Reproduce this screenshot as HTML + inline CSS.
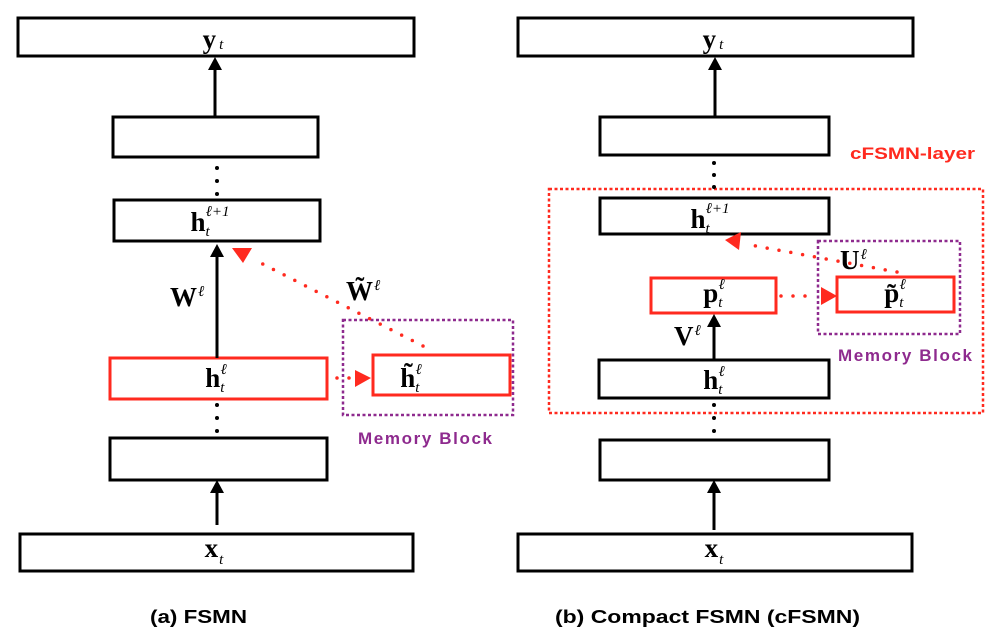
<!DOCTYPE html>
<html><head><meta charset="utf-8"><style>
html,body{margin:0;padding:0;background:#fff;}
svg{display:block}
.m{font-family:"Liberation Serif",serif;font-weight:bold;font-size:27px;}
.s{font-family:"Liberation Serif",serif;font-style:italic;font-size:15px;font-weight:normal;}
.lbl{font-family:"Liberation Sans",sans-serif;font-weight:bold;}
</style></head><body>
<svg width="992" height="636" viewBox="0 0 992 636" xmlns="http://www.w3.org/2000/svg">
<g fill="none" stroke="#000" stroke-width="3">
<rect x="18" y="18" width="396" height="38"/>
<rect x="113" y="117" width="205" height="40"/>
<rect x="114" y="200" width="206" height="41"/>
<rect x="110" y="438" width="217" height="42"/>
<rect x="20" y="534" width="393" height="37"/>
<rect x="518" y="18" width="395" height="38"/>
<rect x="600" y="117" width="229" height="38"/>
<rect x="600" y="198" width="229" height="36"/>
<rect x="599" y="360" width="230" height="38"/>
<rect x="600" y="440" width="229" height="40"/>
<rect x="518" y="534" width="394" height="37"/>
</g>
<g fill="none" stroke="#ff2a1f" stroke-width="3">
<rect x="110" y="358" width="217" height="41"/>
<rect x="373" y="355" width="137" height="40"/>
<rect x="651" y="278" width="125" height="35"/>
<rect x="837" y="277" width="117" height="35"/>
</g>
<rect x="549" y="189" width="434" height="224" fill="none" stroke="#ff2a1f" stroke-width="2.5" stroke-dasharray="3,2.5"/>
<rect x="343" y="320" width="170" height="95" fill="none" stroke="#8e2a8e" stroke-width="2.5" stroke-dasharray="3,2.5"/>
<rect x="818" y="241" width="142" height="93" fill="none" stroke="#8e2a8e" stroke-width="2.5" stroke-dasharray="3,2.5"/>
<g stroke="#000" stroke-width="3">
<line x1="215" y1="117" x2="215" y2="66"/>
<line x1="217" y1="358" x2="217" y2="251"/>
<line x1="217" y1="525" x2="217" y2="490"/>
<line x1="715" y1="117" x2="715" y2="66"/>
<line x1="714" y1="360" x2="714" y2="323"/>
<line x1="714" y1="530" x2="714" y2="490"/>
</g>
<g fill="#000">
<path d="M208,70 L215,57 L222,70z"/>
<path d="M210,257 L217,244 L224,257z"/>
<path d="M210,493 L217,480 L224,493z"/>
<path d="M708,70 L715,57 L722,70z"/>
<path d="M707,327 L714,314 L721,327z"/>
<path d="M707,493 L714,480 L721,493z"/>
<circle cx="217" cy="168" r="2"/><circle cx="217" cy="181" r="2"/><circle cx="217" cy="194" r="2"/>
<circle cx="217" cy="405" r="2"/><circle cx="217" cy="418" r="2"/><circle cx="217" cy="431" r="2"/>
<circle cx="714" cy="163" r="2"/><circle cx="714" cy="175" r="2"/><circle cx="714" cy="187" r="2"/>
<circle cx="714" cy="405" r="2"/><circle cx="714" cy="418" r="2"/><circle cx="714" cy="431" r="2"/>
</g>
<g stroke="#ff2a1f" stroke-width="3.5" stroke-linecap="round" stroke-dasharray="0,12" fill="none">
<line x1="423" y1="346" x2="253" y2="259"/>
<line x1="337" y1="378" x2="355" y2="378"/>
<line x1="897" y1="272" x2="745" y2="244"/>
<line x1="781" y1="296" x2="815" y2="296"/>
</g>
<g fill="#ff2a1f">
<path d="M232,248 L252,248 L243,263z"/>
<path d="M355,370 L371,378 L355,387z"/>
<path d="M725,240 L741,232 L739,250z"/>
<path d="M821,287 L837,296 L821,305z"/>
</g>
<g class="m" text-anchor="middle">
<text x="213" y="48">y<tspan class="s" dy="1" dx="3">t</tspan></text>
<text x="713" y="48">y<tspan class="s" dy="1" dx="3">t</tspan></text>
<text x="214" y="557">x<tspan class="s" dy="7" dx="1">t</tspan></text>
<text x="714" y="557">x<tspan class="s" dy="7" dx="1">t</tspan></text>
<text x="210" y="231">h<tspan class="s" dy="5">t</tspan><tspan class="s" dy="-20" dx="-4">ℓ+1</tspan></text>
<text x="710" y="228">h<tspan class="s" dy="5">t</tspan><tspan class="s" dy="-20" dx="-4">ℓ+1</tspan></text>
<text x="216" y="387">h<tspan class="s" dy="5">t</tspan><tspan class="s" dy="-18" dx="-4">ℓ</tspan></text>
<text x="714" y="389">h<tspan class="s" dy="5">t</tspan><tspan class="s" dy="-18" dx="-4">ℓ</tspan></text>
<text x="411" y="387">h̃<tspan class="s" dy="5">t</tspan><tspan class="s" dy="-18" dx="-4">ℓ</tspan></text>
<text x="714" y="302">p<tspan class="s" dy="5">t</tspan><tspan class="s" dy="-18" dx="-4">ℓ</tspan></text>
<text x="895" y="302">p̃<tspan class="s" dy="5">t</tspan><tspan class="s" dy="-18" dx="-4">ℓ</tspan></text>
</g>
<g class="m">
<text x="170" y="306">W<tspan class="s" dy="-10" dx="1">ℓ</tspan></text>
<text x="346" y="300">W̃<tspan class="s" dy="-10" dx="1">ℓ</tspan></text>
<text x="840" y="269">U<tspan class="s" dy="-10" dx="1">ℓ</tspan></text>
<text x="674" y="345">V<tspan class="s" dy="-10" dx="1">ℓ</tspan></text>
</g>
<g class="lbl">
<text x="358" y="444" font-size="17" fill="#8e2a8e" textLength="134" lengthAdjust="spacing">Memory  Block</text>
<text x="838" y="361" font-size="17" fill="#8e2a8e" textLength="134" lengthAdjust="spacing">Memory  Block</text>
<text x="850" y="159" font-size="17" fill="#ff2a1f" textLength="125" lengthAdjust="spacingAndGlyphs">cFSMN-layer</text>
<text x="150" y="623" font-size="18" fill="#000" textLength="97" lengthAdjust="spacingAndGlyphs">(a) FSMN</text>
<text x="555" y="623" font-size="18" fill="#000" textLength="305" lengthAdjust="spacingAndGlyphs">(b)  Compact FSMN (cFSMN)</text>
</g>
</svg>
</body></html>
